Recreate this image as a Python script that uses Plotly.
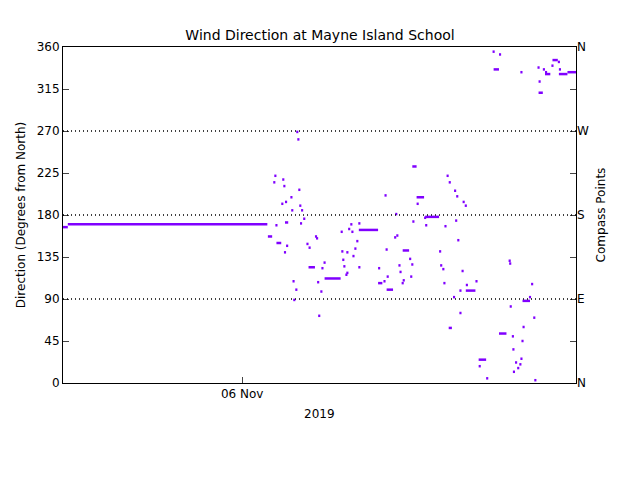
import plotly.graph_objects as go

# Wind direction segments: start hour, end hour (relative to 06 Nov 2019 00:00), degrees
seg_start = [-16.75, -16.3, 2.4, 5.05, 5.15, 3.0, 3.74, 2.9, 3.84, 5.24, 4.5, 4.0, 3.65, 5.33, 5.5, 4.58,
             5.7, 4.0, 3.1, 5.4, 3.2, 4.1, 3.9, 4.7, 4.96, 4.77, 7.1, 6.8, 6.0, 6.2, 6.9, 6.2, 7.4, 7.6,
             7.0, 7.3, 7.7, 9.2, 10.1, 9.9, 10.2, 10.85, 10.66, 10.48, 9.26, 10.3, 9.35, 9.45, 9.73, 9.64,
             9.73, 10.85, 10.9, 13.3, 12.7, 13.4, 13.5, 13.2, 12.7, 13.5, 14.7, 15.0, 14.9, 15.7, 15.8,
             15.6, 15.0, 14.6, 14.2, 14.4, 14.3, 15.9, 16.3, 16.3, 15.9, 17.1, 17.0, 17.1,
             19.1, 19.3, 19.8, 20.0, 20.6, 20.8, 19.9, 20.1, 18.4, 18.5, 18.7, 18.8, 20.5, 20.9, 20.3,
             20.9, 21.8, 19.7, 20.3, 19.3, 22.1, 22.1, 22.8, 18.9,
             23.4, 24.0, 23.5, 24.0, 24.9, 24.95, 25.0, 25.2, 25.25, 25.3, 25.5, 25.7, 26.0, 25.9, 26.0,
             26.1, 26.2, 26.2, 26.8, 27.0, 27.2, 27.3, 27.6, 27.7, 27.7, 28.1, 28.3, 28.3, 28.9, 29.0,
             29.5, 29.6, 29.6, 30.4]
seg_end = [-16.3, 2.35, 2.8, None, None, None, None, None, None, None, None, None, None, None, None, None,
           None, 4.3, None, None, 3.65, None, None, None, None, None, None, None, None, None, None, 6.8, None, None,
           None, None, 9.2, None, None, None, None, None, None, None, None, None, None, None, None, None,
           None, None, 12.7, None, None, None, None, None, 13.1, 14.1, None, None, None, None, None,
           None, 15.6, None, None, None, None, None, None, 17.0, 16.3, None, None, 18.4,
           None, None, None, None, None, None, None, None, None, None, None, None, None, None, None,
           21.8, None, None, None, 19.6, 22.8, None, None, None,
           None, None, 24.0, 24.7, None, None, None, None, None, None, None, None, None, None, None,
           None, None, 26.9, None, None, None, None, None, None, 28.1, None, None, 28.8, None, 29.5,
           None, None, 30.4, 31.2]
seg_deg = [167, 170, 157, 269, 261, 222, 218, 215, 211, 207, 199, 194, 192, 190, 185, 185,
           176, 172, 169, 171, 150, 147, 140, 109, 100, 89, 72, 157, 149, 145, 155, 124, 123, 129,
           108, 98, 112, 162, 170, 165, 162, 171, 152, 144, 141, 136, 132, 125, 118, 116,
           140, 124, 164, 201, 123, 143, 114, 109, 107, 100, 119, 110, 107, 114, 127,
           133, 142, 126, 156, 158, 181, 173, 192, 199, 232, 169, 177, 178,
           222, 215, 206, 200, 194, 190, 174, 153, 141, 126, 122, 107, 120, 105, 99,
           99, 109, 92, 75, 59, 25, 18, 5, 168,
           355, 352, 336, 53, 131, 128, 82, 50, 36, 12, 22, 16, 333, 20, 26,
           45, 60, 88, 92, 106, 70, 3, 338, 323, 311, 336, 333, 331, 340, 346,
           344, 336, 331, 333]

xs, ys = [], []
for s, e, d in zip(seg_start, seg_end, seg_deg):
    if e is None:
        e = s + 0.2
    xs += [s, e, None]
    ys += [d, d, None]

fig = go.Figure()
fig.add_trace(go.Scatter(x=xs, y=ys, mode="lines", line=dict(color="#8000ff", width=2.5),
                         showlegend=False, hoverinfo="skip"))
fig.add_trace(go.Scatter(x=[None], y=[None], yaxis="y2", showlegend=False))

axfont = dict(family="DejaVu Sans", size=12, color="black")
fig.update_layout(
    width=640, height=480, plot_bgcolor="white", paper_bgcolor="white",
    margin=dict(l=55, r=72, t=39, b=105, autoexpand=False),
    title=dict(text="Wind Direction at Mayne Island School", x=(320 - 8) / 640, xanchor="center",
               y=1 - 27/480, yanchor="middle",
               font=dict(family="DejaVu Sans", size=14, color="black")),
    xaxis=dict(range=[-16.75, 31.2], tickvals=[0], ticktext=["06 Nov"], ticks="inside", ticklen=6,
               showgrid=False, zeroline=False, showline=True, linecolor="black", mirror=True,
               tickfont=axfont, automargin=False),
    yaxis=dict(range=[0, 360], tickvals=list(range(0, 361, 45)), ticks="inside", ticklen=6,
               showgrid=False, zeroline=False, showline=True, linecolor="black", mirror=True,
               tickfont=axfont, automargin=False,
               title=dict(text="Direction (Degrees from North)", font=axfont, standoff=8)),
    yaxis2=dict(range=[0, 360], overlaying="y", side="right", tickvals=list(range(0, 361, 45)),
                ticktext=["N", "", "E", "", "S", "", "W", "", "N"], ticks="inside", ticklen=6,
                showgrid=False, zeroline=False, tickfont=axfont, automargin=False,
                title=dict(text="Compass Points", font=axfont, standoff=8)),
    font=axfont,
)
for v in [90, 180, 270]:
    fig.add_shape(type="line", xref="paper", x0=0, x1=1, y0=v, y1=v, yref="y",
                  line=dict(color="black", width=1.3, dash="1px,3px"))
fig.add_annotation(text="2019", xref="paper", yref="paper", x=0.5, y=-0.065, showarrow=False,
                   font=axfont, yanchor="top")
fig.write_html("out.html")
